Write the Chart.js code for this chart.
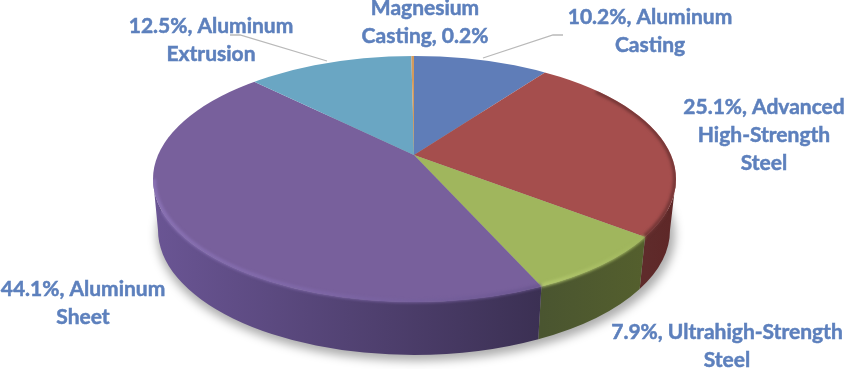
<!DOCTYPE html>
<html>
<head>
<meta charset="utf-8">
<style>
    html, body { margin: 0; padding: 0; background: #ffffff; overflow: hidden; }
    canvas { display: block; }
</style>
<script src="https://cdn.jsdelivr.net/npm/chart.js@4/dist/chart.umd.js"></script>
</head>
<body>
<canvas id="graph" width="844" height="369"></canvas>
<script>
let categories = ["Aluminum Casting", "Advanced High-Strength Steel", "Ultrahigh-Strength Steel", "Aluminum Sheet", "Aluminum Extrusion", "Magnesium Casting"];
let shares = [10.2, 25.1, 7.9, 44.1, 12.5, 0.2];
let faceColors = ["#5f7db8", "#a54e4d", "#a0b65d", "#78609c", "#6aa6c3", "#d39a5c"];
let wallLeftColors = ["#4a618f", "#5f2b2b", "#4a5530", "#6a5594", "#558aa0", "#a87a48"];
let wallRightColors = ["#4a618f", "#5e2727", "#545f2d", "#3b3053", "#558aa0", "#a87a48"];
let rimLeftColors = ["#5f7db8", "#6e3333", "#b4c96e", "#8c74b8", "#6aa6c3", "#d39a5c"];
let rimRightColors = ["#5f7db8", "#6e3333", "#a0b65d", "#6b5690", "#6aa6c3", "#d39a5c"];
let labelLines = [
    ["10.2%, Aluminum", "Casting"],
    ["25.1%, Advanced", "High-Strength", "Steel"],
    ["7.9%, Ultrahigh-Strength", "Steel"],
    ["44.1%, Aluminum", "Sheet"],
    ["12.5%, Aluminum", "Extrusion"],
    ["Magnesium", "Casting, 0.2%"]
];

//where the text blocks sit: centre x, first baseline y
let labelSpots = [[650, 24], [764, 114], [727, 339], [83, 296], [211, 33], [425, 15]];
let leaderLines = [
    [[563, 35], [553, 35], [483, 58]],
    [[230, 35], [240, 35], [327, 61]]
];

//tilted disc as it lies on the picture
let apex = { x: 414, y: 155 };
let squash = 0.47;
let top3d = { x: 414.5, y: 179, rx: 261.5, ry: 123 };
let bottom3d = { x: 414, y: 230, rx: 256, ry: 125 };

/**********/
function rayToEllipse(angle)
{
    //where a slice edge leaving the apex meets the top outline
    let dx = Math.cos(angle) / top3d.rx;
    let dy = Math.sin(angle) * squash / top3d.ry;
    let ox = (apex.x - top3d.x) / top3d.rx;
    let oy = (apex.y - top3d.y) / top3d.ry;

    let a = dx*dx + dy*dy;
    let b = 2 * (ox*dx + oy*dy);
    let c = ox*ox + oy*oy - 1;
    let u = (-b + Math.sqrt(b*b - 4*a*c)) / (2*a);

    return Math.atan2(oy + u*dy, ox + u*dx);
}

/**********/
function frontRange(arc)
{
    let t0 = rayToEllipse(arc.startAngle);
    let t1 = rayToEllipse(arc.endAngle);

    while(t1 < t0) { t1 += Math.PI * 2; }
    if(t0 > Math.PI) { t0 -= Math.PI * 2; t1 -= Math.PI * 2; }

    return [t0, t1];
}

/**********/
function drawWalls(ctx, arcs)
{
    for(let i = 0; i < arcs.length; i++)
    {
        let range = frontRange(arcs[i]);
        let t0 = Math.max(range[0], 0);
        let t1 = Math.min(range[1], Math.PI);

        if(t1 <= t0) { continue; }

        let xLeft = top3d.x + top3d.rx * Math.cos(t1);
        let xRight = top3d.x + top3d.rx * Math.cos(t0);
        let fill = ctx.createLinearGradient(xLeft, 0, xRight, 0);
        fill.addColorStop(0, wallLeftColors[i]);
        fill.addColorStop(1, wallRightColors[i]);

        ctx.beginPath();
        ctx.ellipse(top3d.x, top3d.y, top3d.rx, top3d.ry, 0, t0, t1);
        ctx.ellipse(bottom3d.x, bottom3d.y, bottom3d.rx, bottom3d.ry, 0, t1, t0, true);
        ctx.closePath();
        ctx.fillStyle = fill;
        ctx.fill();
    }
}

/**********/
function drawRim(ctx, arcs)
{
    ctx.save();

    //keep the soft edge on the disc, not on the white
    ctx.beginPath();
    ctx.ellipse(top3d.x, top3d.y, top3d.rx, top3d.ry, 0, 0, Math.PI * 2);
    ctx.moveTo(bottom3d.x + bottom3d.rx, bottom3d.y);
    ctx.ellipse(bottom3d.x, bottom3d.y, bottom3d.rx, bottom3d.ry, 0, 0, Math.PI * 2);
    ctx.clip();

    ctx.filter = "blur(1.5px)";
    ctx.lineWidth = 3.5;

    for(let i = 0; i < arcs.length; i++)
    {
        let range = frontRange(arcs[i]);
        let t0 = Math.max(range[0], -0.8);
        let t1 = Math.min(range[1], Math.PI);

        if(t1 <= t0) { continue; }

        let xLeft = top3d.x + top3d.rx * Math.cos(t1);
        let xRight = top3d.x + top3d.rx * Math.cos(t0);
        let stroke = ctx.createLinearGradient(xLeft, 0, xRight, 0);
        stroke.addColorStop(0, rimLeftColors[i]);
        stroke.addColorStop(1, rimRightColors[i]);

        ctx.beginPath();
        ctx.ellipse(top3d.x, top3d.y, top3d.rx - 1, top3d.ry - 1, 0, t0, t1);
        ctx.strokeStyle = stroke;
        ctx.stroke();
    }

    ctx.restore();
}

/**********/
let disc3d =
{
    id: "disc3d",

    beforeDatasetsDraw(chart)
    {
        let ctx = chart.ctx;
        let arcs = chart.getDatasetMeta(0).data;

        //soft shadow on the floor
        ctx.save();
        ctx.filter = "blur(5px)";
        ctx.beginPath();
        ctx.ellipse(bottom3d.x + 2, bottom3d.y + 5, bottom3d.rx + 3, bottom3d.ry + 1, 0, 0, Math.PI * 2);
        ctx.fillStyle = "rgba(0,0,0,0.32)";
        ctx.fill();
        ctx.restore();

        drawWalls(ctx, arcs);

        //the pie is stretched and cut by the outline
        let zoom = 350 / arcs[0].outerRadius;

        ctx.save();
        ctx.beginPath();
        ctx.ellipse(top3d.x, top3d.y, top3d.rx, top3d.ry, 0, 0, Math.PI * 2);
        ctx.clip();
        ctx.translate(apex.x, apex.y);
        ctx.scale(zoom, zoom * squash);
        ctx.translate(-arcs[0].x, -arcs[0].y);
    },

    afterDatasetsDraw(chart)
    {
        let ctx = chart.ctx;

        ctx.restore();

        drawRim(ctx, chart.getDatasetMeta(0).data);

        //leader lines
        ctx.save();
        ctx.strokeStyle = "#b9b9b9";
        ctx.lineWidth = 1.3;
        for(let i = 0; i < leaderLines.length; i++)
        {
            ctx.beginPath();
            ctx.moveTo(leaderLines[i][0][0], leaderLines[i][0][1]);
            ctx.lineTo(leaderLines[i][1][0], leaderLines[i][1][1]);
            ctx.lineTo(leaderLines[i][2][0], leaderLines[i][2][1]);
            ctx.stroke();
        }
        ctx.restore();

        //labels, a thin outline thickens Lato towards the original weight
        ctx.save();
        ctx.font = "bold 21px Lato";
        ctx.fillStyle = "#5d80bd";
        ctx.strokeStyle = "#5d80bd";
        ctx.lineWidth = 0.5;
        ctx.textAlign = "center";
        for(let i = 0; i < labelLines.length; i++)
        {
            for(let j = 0; j < labelLines[i].length; j++)
            {
                ctx.fillText(labelLines[i][j], labelSpots[i][0], labelSpots[i][1] + j * 27.8);
                ctx.strokeText(labelLines[i][j], labelSpots[i][0], labelSpots[i][1] + j * 27.8);
            }
        }
        ctx.restore();
    }
};

/**********/
window.graph = new Chart(document.getElementById("graph"),
{
    type: "pie",

    data:
    {
        labels: categories,
        datasets: [ { data: shares, backgroundColor: faceColors, borderWidth: 0, clip: false } ]
    },

    options:
    {
        responsive: false,
        animation: false,
        plugins: { legend: { display: false }, tooltip: { enabled: false } }
    },

    plugins: [disc3d]
});
</script>
</body>
</html>
